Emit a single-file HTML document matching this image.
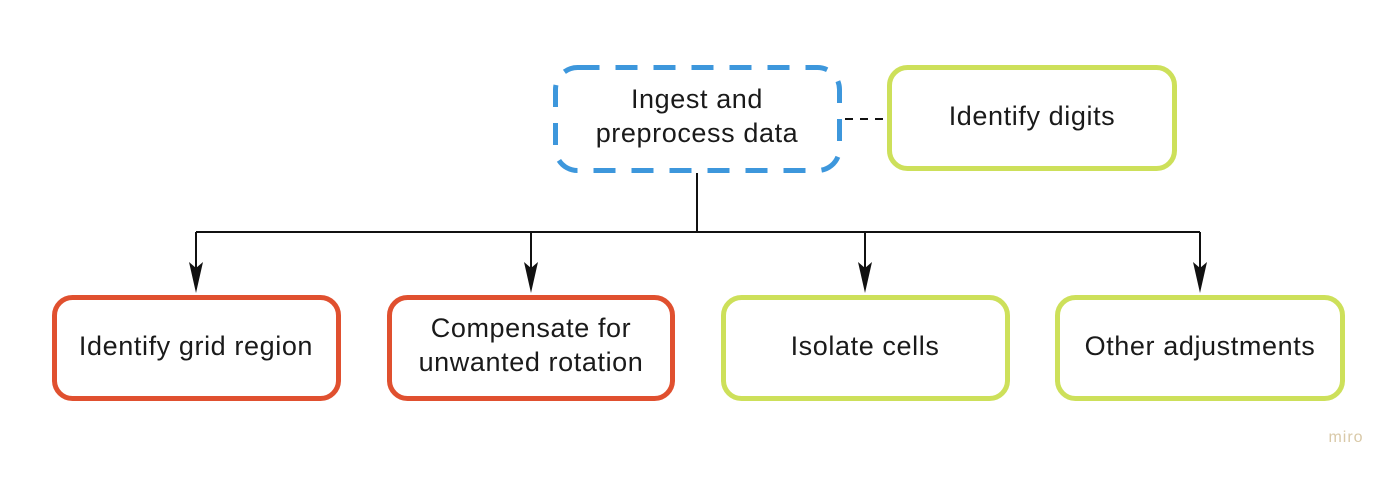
<!DOCTYPE html>
<html><head><style>
body{margin:0;width:1400px;height:476px;background:#fff;overflow:hidden}
svg text{font-family:"Liberation Sans",sans-serif;font-size:27px;letter-spacing:0.6px;fill:#1a1a1a;text-anchor:middle}
</style></head><body>
<svg width="1400" height="476" viewBox="0 0 1400 476">
<g fill="none" stroke-width="5">
<rect x="555.5" y="67.5" width="284" height="103" rx="22" stroke="#3d97dc" stroke-dasharray="22,16"/>
<rect x="889.5" y="67.5" width="285" height="101" rx="18" stroke="#cde05a"/>
<rect x="54.5" y="297.5" width="284" height="101" rx="18" stroke="#e0502f"/>
<rect x="389.5" y="297.5" width="283" height="101" rx="18" stroke="#e0502f"/>
<rect x="723.5" y="297.5" width="284" height="101" rx="18" stroke="#cde05a"/>
<rect x="1057.5" y="297.5" width="285" height="101" rx="18" stroke="#cde05a"/>
</g>
<g stroke="#111" stroke-width="2" fill="none">
<path d="M697,173 V232 M196,232 H1200"/>
<path d="M196,232 V270 M531,232 V270 M865,232 V270 M1200,232 V270"/>
<path d="M845,119 H887" stroke-dasharray="8,7"/>
</g>
<g fill="#111">
<path d="M189,262 L196,268 L203,262 L196,293 Z"/>
<path d="M524,262 L531,268 L538,262 L531,293 Z"/>
<path d="M858,262 L865,268 L872,262 L865,293 Z"/>
<path d="M1193,262 L1200,268 L1207,262 L1200,293 Z"/>
</g>
<text x="697" y="108">Ingest and</text>
<text x="697" y="142">preprocess data</text>
<text x="1032" y="125">Identify digits</text>
<text x="196" y="355">Identify grid region</text>
<text x="531" y="337">Compensate for</text>
<text x="531" y="371">unwanted rotation</text>
<text x="865" y="355">Isolate cells</text>
<text x="1200" y="355">Other adjustments</text>
<text x="1346" y="442" style="font-size:16px;fill:#d9c9a8;letter-spacing:1px">miro</text>
</svg>
</body></html>
